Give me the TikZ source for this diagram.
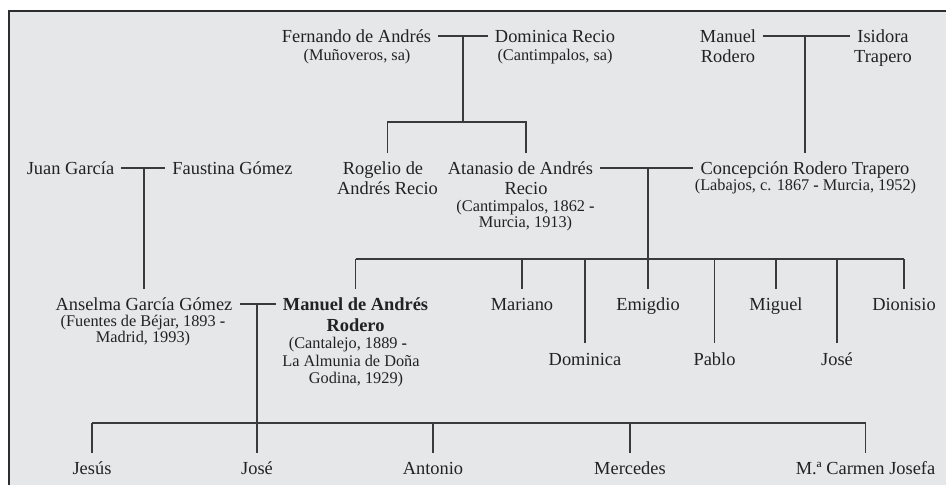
\documentclass[tikz,border=0pt]{standalone}
\usepackage{fontspec}
\setmainfont{Liberation Serif}
\definecolor{bgc}{HTML}{E6E7E9}
\definecolor{ink}{HTML}{222222}
\definecolor{lnc}{HTML}{3A3A3A}
\definecolor{framec}{HTML}{2E2E2E}
\begin{document}
\begin{tikzpicture}[x=1pt,y=-1pt,
  nm/.style={anchor=base, inner xsep=7pt, inner ysep=0pt, text=ink, font=\fontsize{18.4}{20}\selectfont},
  nmb/.style={nm, font=\fontsize{18.4}{21}\selectfont\bfseries},
  sm/.style={anchor=base, inner sep=0pt, text=ink, font=\fontsize{16.3}{17.5}\selectfont},
  ln/.style={draw=lnc, line width=1.4pt},
  frame/.style={draw=framec, line width=2pt}]
\useasboundingbox (0,0) rectangle (946,485);
\clip (0,0) rectangle (946,485);
\fill[white] (0,0) rectangle (946,485);
\fill[bgc] (8.5,10.5) rectangle (960,500);
\draw[frame] (8.5,500) -- (8.5,10.5) -- (960,10.5);

% row levels
\coordinate (t2) at (0,153);
\coordinate (t3) at (0,289);
\coordinate (t4) at (0,343);
\coordinate (t5) at (0,453);

% generation 1
\node[nm] (fern) at (356.5,42) {Fernando de Andrés};
\node[sm] (fern2) at (357,60) {(Muñoveros, sa)};
\node[nm] (dom) at (555,42) {Dominica Recio};
\node[sm] (dom2) at (555,60) {(Cantimpalos, sa)};
\node[nm] (manr) at (728,42) {Manuel};
\node[nm] (manr2) at (728,62) {Rodero};
\node[nm] (isi) at (883,42) {Isidora};
\node[nm] (isi2) at (883,62) {Trapero};

% generation 2
\node[nm] (juan) at (70.5,174) {Juan García};
\node[nm] (fau) at (232.5,174) {Faustina Gómez};
\node[nm] (rog) at (383,174) {Rogelio de};
\node[nm] (rog2) at (387.5,194) {Andrés Recio};
\node[nm] (ata) at (520.5,174) {Atanasio de Andrés};
\node[nm] (ata2) at (526,194) {Recio};
\node[sm] (ata3) at (525.5,211) {(Cantimpalos, 1862 \textbf{-}};
\node[sm] (ata4) at (525.5,227) {Murcia, 1913)};
\node[nm] (conc) at (805,174) {Concepción Rodero Trapero};
\node[sm] (conc2) at (805.5,190) {(Labajos, c. 1867 \textbf{-} Murcia, 1952)};

% generation 3
\node[nm] (ans) at (144,310) {Anselma García Gómez};
\node[sm] (ans2) at (143,326) {(Fuentes de Béjar, 1893 \textbf{-}};
\node[sm] (ans3) at (143,342) {Madrid, 1993)};
\node[nmb] (man) at (355.5,310) {Manuel de Andrés};
\node[nmb] (man2) at (355.5,331) {Rodero};
\node[sm] (man3) at (348,348) {(Cantalejo, 1889 \textbf{-}};
\node[sm] (man4) at (351,366) {La Almunia de Doña};
\node[sm] (man5) at (356,383) {Godina, 1929)};
\node[nm] (mar) at (522,310) {Mariano};
\node[nm] (dmc) at (585,365) {Dominica};
\node[nm] (emi) at (648,310) {Emigdio};
\node[nm] (pab) at (714.5,365) {Pablo};
\node[nm] (mig) at (776,310) {Miguel};
\node[nm] (jos) at (837,365) {José};
\node[nm] (dio) at (904,310) {Dionisio};

% generation 4
\node[nm] (jes) at (92,474) {Jesús};
\node[nm] (jose) at (257,474) {José};
\node[nm] (ant) at (433,474) {Antonio};
\node[nm] (mer) at (630,474) {Mercedes};
\node[nm] (car) at (865.5,474) {M.ª Carmen Josefa};

% couple points and bars
\coordinate (c1) at (463,36);
\coordinate (c4) at (805,36);
\coordinate (c2) at (144,168);
\coordinate (c3) at (648,168);
\coordinate (c5) at (257,304);
\coordinate (b1) at (463,122);
\coordinate (b2) at (648,259);
\coordinate (b3) at (257,423);

% marriages
\draw[ln] (fern.east |- c1) -- (dom.west |- c1);
\draw[ln] (manr.east |- c4) -- (isi.west |- c4);
\draw[ln] (juan.east |- c2) -- (fau.west |- c2);
\draw[ln] (ata.east |- c3) -- (conc.west |- c3);
\draw[ln] (ans.east |- c5) -- (man.west |- c5);

% descent 1
\draw[ln] (c1) -- (b1);
\draw[ln] (rog2 |- t2) |- (b1) -| (ata2 |- t2);
\draw[ln] (c4) -- (conc.north |- t2);
\draw[ln] (c2) -- (ans.north |- t3);

% descent 2
\draw[ln] (c3) -- (b2);
\draw[ln] (man |- b2) -- (dio |- b2);
\draw[ln] (man |- b2) -- (man |- t3);
\draw[ln] (mar |- b2) -- (mar |- t3);
\draw[ln] (emi |- b2) -- (emi |- t3);
\draw[ln] (mig |- b2) -- (mig |- t3);
\draw[ln] (dio |- b2) -- (dio |- t3);
\draw[ln] (dmc |- b2) -- (dmc |- t4);
\draw[ln] (pab |- b2) -- (pab |- t4);
\draw[ln] (jos |- b2) -- (jos |- t4);

% descent 3
\draw[ln] (c5) -- (b3);
\draw[ln] (jes |- b3) -- (car |- b3);
\draw[ln] (jes |- b3) -- (jes |- t5);
\draw[ln] (jose |- b3) -- (jose |- t5);
\draw[ln] (ant |- b3) -- (ant |- t5);
\draw[ln] (mer |- b3) -- (mer |- t5);
\draw[ln] (car |- b3) -- (car |- t5);
\end{tikzpicture}
\end{document}
